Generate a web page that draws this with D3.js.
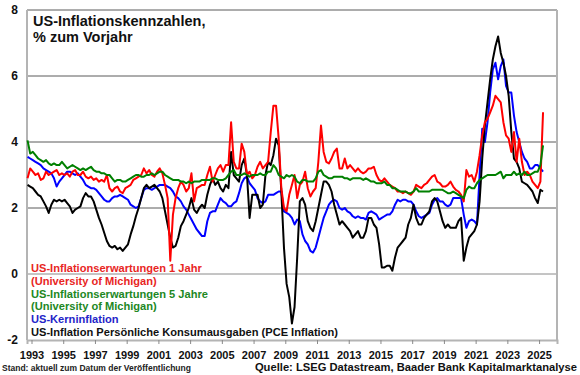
<!DOCTYPE html>
<html>
<head>
<meta charset="utf-8">
<script src="https://cdn.jsdelivr.net/npm/d3@7"></script>
<style>
  body { margin: 0; background: #fff; }
  text { font-family: "Liberation Sans", Arial, sans-serif; }
</style>
</head>
<body>
<div class="canvas"></div>
<script>
// bimonthly grid: Oct 1992, Dec 1992, then Feb..Dec each year, up to Apr 2025
const startYear = 1992.75;
const step = 1 / 6;

const yTicks = [-2, 0, 2, 4, 6, 8];
const xTicks = [1993, 1995, 1997, 1999, 2001, 2003, 2005, 2007, 2009, 2011, 2013, 2015, 2017, 2019, 2021, 2023, 2025];

// Michigan 1 Jahr
const mich1 = [2.9, 3.2,
  3.1, 3.0, 3.05, 2.85, 2.9, 3.1,
  3.0, 3.05, 3.1, 3.15, 3.0, 3.05,
  3.0, 3.05, 2.95, 3.1, 3.15, 3.0,
  3.0, 3.1, 2.95, 2.9, 2.95, 2.85,
  2.9, 2.8, 2.85, 2.8, 3.0, 2.6,
  2.5, 2.6, 2.65, 2.5, 2.45, 2.6,
  2.65, 2.7, 2.85, 2.9, 2.95, 3.0,
  3.2, 3.05, 3.15, 3.0, 2.95, 3.1,
  3.2, 3.05, 2.7, 2.3, 0.4, 1.8,
  2.3, 2.6, 2.8, 2.7, 2.5, 2.6,
  3.05, 2.2, 2.6, 2.65, 2.7, 2.7,
  3.0, 3.25, 2.8, 3.0, 3.2, 3.3,
  3.1, 3.3, 3.3, 4.6, 3.4, 3.2,
  3.2, 3.95, 3.7, 3.0, 3.1, 2.9,
  3.0, 3.25, 3.4, 3.2, 3.3, 3.4,
  4.3, 5.1, 5.1, 4.1, 2.6, 2.0,
  1.9, 2.4, 2.7, 3.0, 2.3, 2.7,
  2.8, 3.1, 2.6, 2.35, 2.5, 2.6,
  3.4, 4.5, 3.7, 3.4, 3.35, 3.5,
  3.7, 3.8, 3.2, 3.2, 3.5, 3.2,
  3.3, 3.2, 3.1, 3.2, 3.1, 3.05,
  3.1, 3.2, 3.2, 3.25, 3.0, 2.85,
  2.8, 2.9, 2.8, 2.7, 2.65, 2.6,
  2.5, 2.5, 2.45, 2.5, 2.45, 2.4,
  2.5, 2.7, 2.65, 2.6, 2.7, 2.75,
  2.85, 2.95, 3.0, 2.8, 2.75, 2.65,
  2.65, 2.7, 2.8, 2.65, 2.55, 2.5,
  2.4, 2.2, 3.15, 2.95, 3.0, 2.8,
  3.1, 3.6, 4.2, 4.6, 4.7, 4.9,
  5.1, 5.4, 5.3, 5.2, 4.6, 4.2,
  4.1, 3.7, 4.3, 3.4, 4.1, 3.4,
  3.0, 3.1, 3.0, 2.8, 2.7, 2.6,
  2.8, 4.9];

// Michigan 5 Jahre
const mich5 = [4.05, 3.65,
  3.7, 3.6, 3.5, 3.45, 3.4, 3.45,
  3.35, 3.3, 3.35, 3.3, 3.3, 3.4,
  3.3, 3.2, 3.25, 3.3, 3.25, 3.2,
  3.15, 3.2, 3.15, 3.2, 3.25, 3.15,
  3.1, 3.1, 3.05, 3.05, 3.0, 3.0,
  2.9, 2.8, 2.85, 2.85, 2.8, 2.8,
  2.85, 2.9, 2.95, 3.0, 3.0, 2.95,
  2.95, 3.0, 3.0, 3.05, 3.0, 3.05,
  3.1, 3.1, 3.0, 2.95, 2.9, 2.85,
  2.85, 2.85, 2.8, 2.8, 2.75, 2.8,
  2.75, 2.8, 2.8, 2.8, 2.85, 2.85,
  2.85, 2.85, 2.9, 2.9, 2.85, 2.85,
  2.85, 2.9, 3.0, 3.1, 3.15, 3.0,
  3.0, 3.0, 3.05, 3.0, 2.95, 3.0,
  3.0, 3.0, 3.05, 3.0, 3.0, 3.1,
  3.1, 3.3, 3.2, 3.0, 2.95, 2.9,
  3.0, 2.95, 3.0, 2.95, 2.8, 2.75,
  2.85, 2.85, 2.8, 2.8, 2.8, 2.9,
  3.1, 3.15, 3.0, 2.95, 2.9, 2.9,
  2.95, 2.95, 2.95, 2.95, 2.9, 2.9,
  2.85, 2.9, 2.9, 2.9, 2.9, 2.85,
  2.9, 2.85, 2.8, 2.8, 2.75, 2.75,
  2.75, 2.8, 2.7, 2.7, 2.6, 2.6,
  2.55, 2.5, 2.5, 2.5, 2.45, 2.45,
  2.5, 2.6, 2.5, 2.5, 2.5, 2.5,
  2.5, 2.55, 2.55, 2.55, 2.55, 2.55,
  2.5, 2.45, 2.45, 2.5, 2.45, 2.4,
  2.35, 2.3, 2.55, 2.65, 2.6, 2.6,
  2.75, 2.85, 2.9, 2.95, 3.0, 3.0,
  3.0, 3.0, 3.05, 3.1, 2.9, 3.0,
  3.0, 3.0, 3.1, 3.0, 3.05, 3.0,
  3.1, 3.0, 3.0, 3.05, 3.1, 3.1,
  3.3, 3.9];

// Kerninflation (core CPI)
const core = [3.55, 3.5,
  3.45, 3.4, 3.35, 3.3, 3.2, 3.15,
  3.1, 3.05, 2.9, 2.65, 2.8, 2.9,
  3.0, 3.1, 3.1, 3.05, 3.0, 3.05,
  2.95, 2.85, 2.7, 2.65, 2.6, 2.6,
  2.55, 2.45, 2.35, 2.25, 2.2, 2.2,
  2.3, 2.35, 2.35, 2.4, 2.35, 2.3,
  2.25, 2.1, 2.05, 2.0, 2.05, 2.3,
  2.55, 2.6, 2.6, 2.55, 2.6, 2.65,
  2.7, 2.7, 2.7, 2.65, 2.6, 2.5,
  2.35, 2.3, 2.2, 2.05, 1.95, 1.8,
  1.65, 1.5, 1.35, 1.25, 1.15, 1.15,
  1.6, 1.85, 1.9, 1.9, 2.1, 2.3,
  2.2, 2.15, 2.05, 2.05, 2.15, 2.2,
  2.45, 2.75, 2.9, 2.95, 2.75, 2.65,
  2.55, 2.3, 2.2, 2.15, 2.2, 2.4,
  2.4, 2.4, 2.45, 2.5, 2.5, 1.9,
  1.85, 1.8, 1.7, 1.5, 1.65, 1.6,
  1.2, 1.0, 0.9, 0.7, 0.65, 0.8,
  1.1, 1.4, 1.7, 1.9, 2.1, 2.2,
  2.25, 2.2, 2.0, 1.95, 2.0, 1.9,
  1.85, 1.75, 1.7, 1.75, 1.7, 1.7,
  1.65, 1.85, 1.9, 1.85, 1.8, 1.65,
  1.7, 1.75, 1.8, 1.8, 1.9, 2.1,
  2.25, 2.2, 2.25, 2.25, 2.2, 2.2,
  2.1, 1.9, 1.75, 1.7, 1.75, 1.8,
  1.85, 2.1, 2.25, 2.3, 2.2, 2.2,
  2.1, 2.05, 2.1, 2.3, 2.3, 2.3,
  2.3, 1.8, 1.4, 1.6, 1.65, 1.6,
  1.5, 3.0, 4.4, 4.0, 4.6, 5.5,
  6.2, 6.4, 5.9, 6.3, 6.5, 5.7,
  5.5, 5.5, 4.8, 4.3, 4.0, 3.7,
  3.5, 3.4, 3.2, 3.2, 3.3, 3.3,
  3.2, 3.1];

// PCE Inflation
const pce = [2.7, 2.65,
  2.6, 2.5, 2.4, 2.35, 2.2, 2.05,
  1.85, 2.1, 2.25, 2.2, 2.25, 2.2,
  2.25, 2.15, 2.05, 1.85, 1.95, 2.0,
  2.05, 2.3, 2.45, 2.35, 2.35, 2.2,
  1.95, 1.7, 1.5, 1.25, 1.0, 0.85,
  0.8, 0.85, 0.75, 0.8, 0.7, 0.8,
  0.9, 1.2, 1.45, 1.75, 2.0, 2.3,
  2.6, 2.7, 2.6, 2.65, 2.7, 2.6,
  2.5, 2.3, 1.9, 1.5, 1.1, 0.8,
  0.85, 1.1, 1.45, 1.6, 1.8, 2.0,
  2.3, 1.95, 1.85, 2.0, 2.1, 2.0,
  2.4, 2.7, 2.9, 2.7, 2.8, 2.6,
  2.5, 2.7, 2.6, 3.7, 3.0, 2.9,
  2.8, 3.3, 3.5, 3.0, 1.7, 2.4,
  2.4, 2.4, 2.0, 2.1, 3.0, 3.4,
  3.3, 3.6, 4.1, 3.9, 2.5, 0.8,
  -0.3, -0.7, -1.5, -1.0, 0.5, 2.2,
  2.3, 2.1, 1.6, 1.4, 1.3, 1.6,
  2.0, 2.4, 2.8, 2.8, 2.7, 2.5,
  2.1, 1.8, 1.5, 1.6, 1.5, 1.4,
  1.3, 1.1, 1.2, 1.3, 1.1, 1.1,
  1.3, 1.7, 1.7, 1.5, 1.4, 0.9,
  0.2, 0.2, 0.25, 0.25, 0.1, 0.5,
  0.8, 0.9, 1.0, 1.1, 1.5, 1.7,
  2.1, 1.7, 1.5, 1.5, 1.7, 1.8,
  1.9, 2.2, 2.3, 2.2, 1.9, 1.6,
  1.4, 1.5, 1.4, 1.4, 1.4, 1.6,
  1.7, 0.4, 0.8, 1.1, 1.2, 1.3,
  1.5, 2.2, 3.5, 4.5, 5.2, 5.9,
  6.5, 6.9, 7.2, 6.7, 6.4, 6.0,
  5.4, 4.3, 3.5, 3.4, 3.2, 2.8,
  2.75, 2.7, 2.6, 2.5, 2.3, 2.15,
  2.55, 2.5];

const seriesNames = [
  ["US-Inflationserwartungen 1 Jahr", "(University of Michigan)"],
  ["US-Inflationserwartungen 5 Jahre", "(University of Michigan)"],
  ["US-Kerninflation"],
  ["US-Inflation Persönliche Konsumausgaben (PCE Inflation)"]
];
const lineColours = ["#ff0000", "#008000", "#0000ff", "#000000"];
const textColours = ["#e8261f", "#21881f", "#2424c8", "#111111"];

const W = 580, H = 375;
const plot = {left: 27, right: 557, top: 10, bottom: 340};

const svg = d3.select('.canvas')
  .append('svg')
  .attr('width', W)
  .attr('height', H);

const x = d3.scaleLinear()
  .domain([1992.716, 2026.13])
  .range([plot.left, plot.right]);
const y = d3.scaleLinear()
  .domain([-2, 8])
  .range([plot.bottom, plot.top]);

// gridlines
svg.append('g')
  .selectAll('line')
  .data(yTicks.filter(d => d > -2))
  .join('line')
  .attr('x1', plot.left).attr('x2', plot.right)
  .attr('y1', d => y(d)).attr('y2', d => y(d))
  .attr('stroke', d => d === 0 ? '#8a8a8a' : '#5a5a5a')
  .attr('stroke-width', 1);

// frame left / right
svg.append('line')
  .attr('x1', plot.left).attr('x2', plot.left)
  .attr('y1', plot.top).attr('y2', plot.bottom)
  .attr('stroke', '#b4b4b4').attr('stroke-width', 2);
svg.append('line')
  .attr('x1', plot.right).attr('x2', plot.right)
  .attr('y1', plot.top).attr('y2', plot.bottom)
  .attr('stroke', '#b4b4b4').attr('stroke-width', 2);

// x axis
const xAxis = d3.axisBottom(x)
  .tickValues(xTicks)
  .tickFormat(d3.format('d'))
  .tickSize(4)
  .tickPadding(7);
const xAxisGroup = svg.append('g')
  .attr('transform', `translate(0, ${plot.bottom})`)
  .call(xAxis);
xAxisGroup.select('.domain').attr('stroke', '#b4b4b4').attr('stroke-width', 2);
xAxisGroup.selectAll('.tick line').attr('stroke', '#8a8a8a');
xAxisGroup.selectAll('.tick text')
  .attr('font-size', 11).attr('font-weight', 'bold').attr('fill', '#111')
  .attr('font-family', '"Liberation Sans", Arial, sans-serif');

// y labels
svg.append('g')
  .selectAll('text')
  .data(yTicks)
  .join('text')
  .attr('x', 18)
  .attr('y', d => y(d) + 4)
  .attr('text-anchor', 'end')
  .attr('font-size', 12)
  .attr('font-weight', 'bold')
  .attr('fill', '#111')
  .text(d => d);

// lines
const dates = mich1.map((_, i) => startYear + i * step);
const line = d3.line()
  .x((d, i) => x(dates[i]))
  .y(d => y(d));

const allSeries = [core, pce, mich1, mich5];
const order = [2, 3, 0, 1];
svg.append('g')
  .selectAll('path')
  .data(allSeries)
  .join('path')
  .attr('d', d => line(d))
  .attr('fill', 'none')
  .attr('stroke', (d, i) => lineColours[order[i]])
  .attr('stroke-width', 2)
  .attr('stroke-linejoin', 'round');

// title
const title = svg.append('text')
  .attr('x', 33).attr('y', 26)
  .attr('font-size', 14.5).attr('font-weight', 'bold').attr('fill', '#111');
title.append('tspan').attr('x', 33).text('US-Inflationskennzahlen,');
title.append('tspan').attr('x', 33).attr('dy', 16).text('% zum Vorjahr');

// legend
let ly = 272;
seriesNames.forEach((lines, i) => {
  lines.forEach(t => {
    svg.append('text')
      .attr('x', 31).attr('y', ly)
      .attr('font-size', 11.1).attr('font-weight', 'bold')
      .attr('fill', textColours[i])
      .text(t);
    ly += 12.8;
  });
});

// footer
svg.append('text')
  .attr('x', 2).attr('y', 371)
  .attr('font-size', 8.5).attr('font-weight', 'bold').attr('fill', '#222')
  .text('Stand: aktuell zum Datum der Veröffentlichung');
svg.append('text')
  .attr('x', 577).attr('y', 371)
  .attr('text-anchor', 'end')
  .attr('font-size', 11.2).attr('font-weight', 'bold').attr('fill', '#111')
  .text('Quelle: LSEG Datastream, Baader Bank Kapitalmarktanalyse');
</script>
</body>
</html>
